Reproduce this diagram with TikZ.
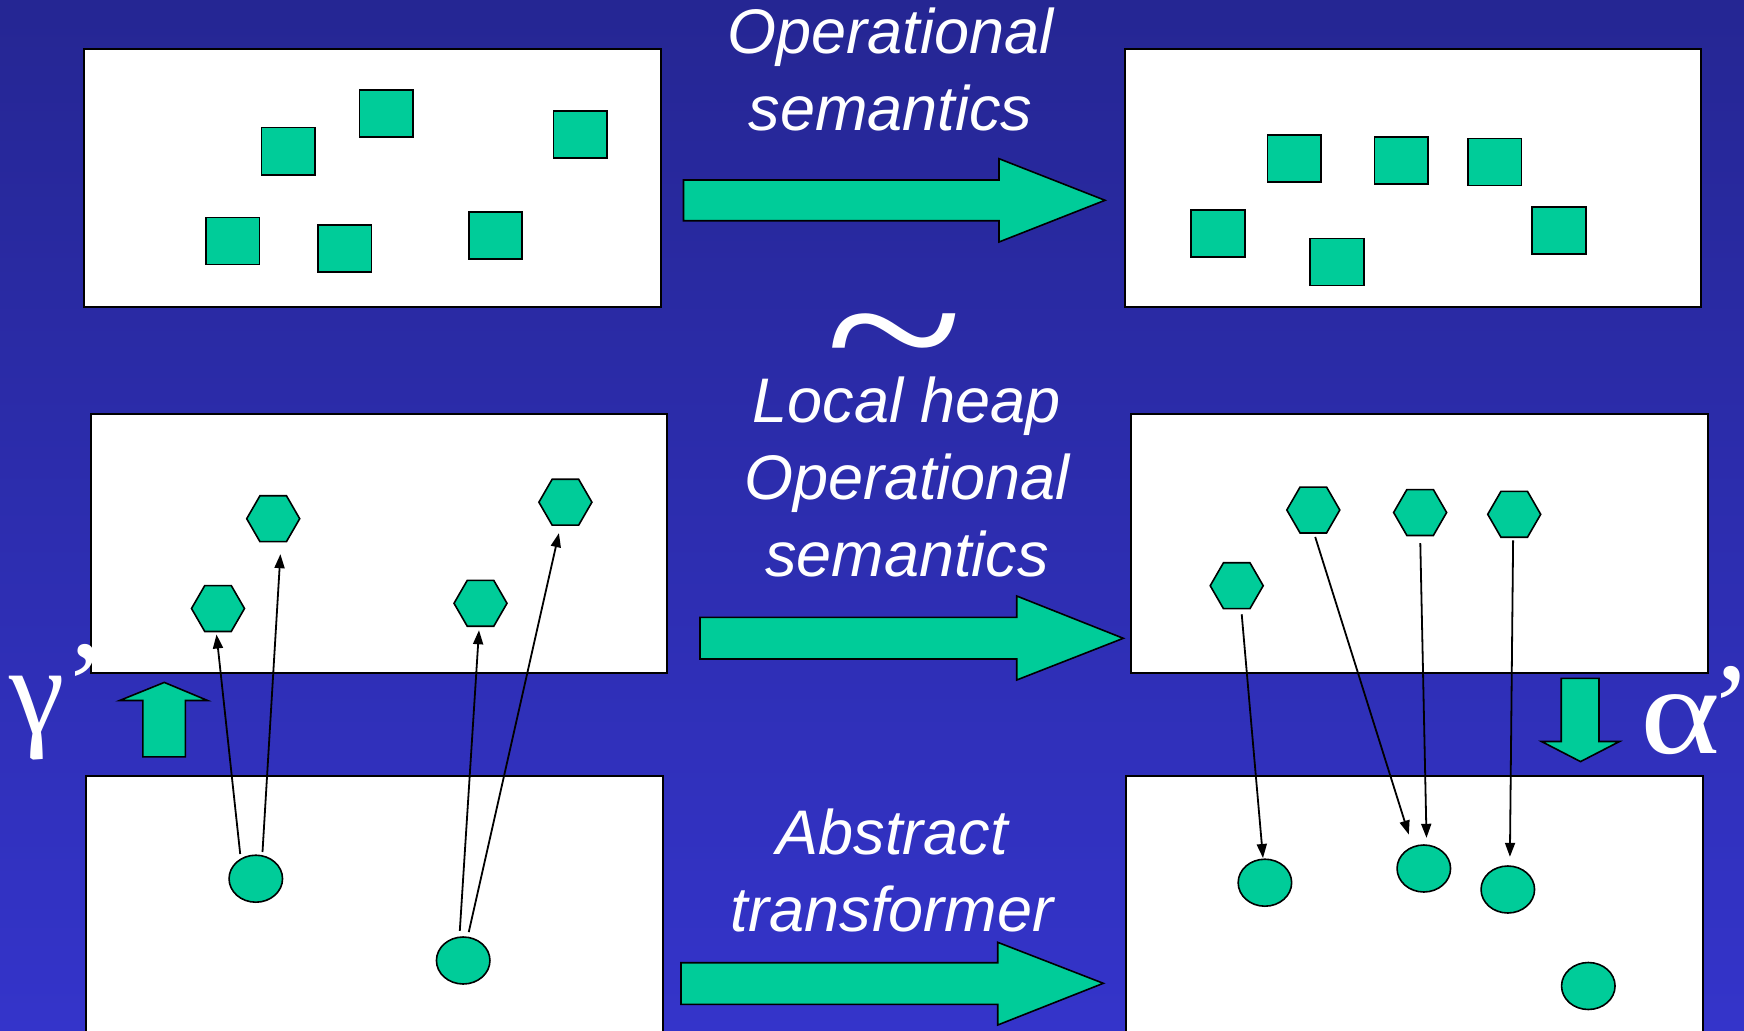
\documentclass[tikz,border=0pt]{standalone}
\usepackage{fontspec}
\setmainfont{Liberation Sans}
\newfontfamily\seriffont{Liberation Serif}
\usetikzlibrary{shapes.geometric,arrows.meta,calc}
\definecolor{bgtop}{HTML}{252693}
\definecolor{bgbot}{HTML}{3434CA}
\definecolor{tealfill}{HTML}{00CC99}
\begin{document}
\begin{tikzpicture}[x=1pt,y=-1pt,
  heapbox/.style={draw=black,fill=white,line width=2pt,inner sep=0pt,outer sep=0pt,anchor=north west},
  sq/.style={draw=black,fill=tealfill,line width=1.6pt,minimum width=53.5pt,minimum height=47pt,inner sep=0pt,outer sep=0pt},
  hexa/.style={regular polygon,regular polygon sides=6,draw=black,fill=tealfill,line width=1.6pt,minimum size=53pt,inner sep=0pt,outer sep=0pt},
  blob/.style={ellipse,draw=black,fill=tealfill,line width=1.6pt,minimum width=53.5pt,minimum height=47pt,inner sep=0pt,outer sep=0pt},
  conn/.style={line width=1.8pt,-{Triangle[length=14pt,width=10pt]}},
  blockarrow/.style={draw=black,fill=tealfill,line width=1.6pt,line join=miter},
  lbl/.style={text=white,font=\fontsize{63}{77}\selectfont\itshape,align=center,inner sep=0pt,anchor=base},
  greek/.style={text=white,font=\fontsize{125}{125}\selectfont\seriffont,inner sep=0pt,anchor=base west}]
\useasboundingbox (0,0) rectangle (1744,1030);
\shade[top color=bgtop,bottom color=bgbot] (0,0) rectangle (1744,1030);
\clip (0,0) rectangle (1744,1030);

% boxes
\node[heapbox,minimum width=577pt,minimum height=258pt] (b1) at (84,49) {};
\node[heapbox,minimum width=576.5pt,minimum height=258pt] (b2) at (1124.5,49) {};
\node[heapbox,minimum width=576pt,minimum height=258.5pt] (b3) at (91,414) {};
\node[heapbox,minimum width=577pt,minimum height=258.5pt] (b4) at (1131,414) {};
\node[heapbox,minimum width=577pt,minimum height=280pt] (b5) at (85.7,775.6) {};
\node[heapbox,minimum width=576.5pt,minimum height=280pt] (b6) at (1126,775.6) {};

% squares, top-left
\node[sq] (s1) at (288.4,151.2) {};
\node[sq] (s2) at (386.2,113.7) {};
\node[sq] (s3) at (580.3,134.7) {};
\node[sq] (s4) at (232.6,241) {};
\node[sq] (s5) at (344.6,248.4) {};
\node[sq] (s6) at (495.5,235.5) {};
% squares, top-right
\node[sq] (t1) at (1294.1,158.5) {};
\node[sq] (t2) at (1401.2,160.3) {};
\node[sq] (t3) at (1494.8,161.8) {};
\node[sq] (t4) at (1218,233.5) {};
\node[sq] (t5) at (1337,262) {};
\node[sq] (t6) at (1559,230.5) {};

% hexagons, middle-left
\node[hexa] (h1) at (273.2,518.7) {};
\node[hexa] (h2) at (565.4,502.2) {};
\node[hexa] (h3) at (218,608.5) {};
\node[hexa] (h4) at (480.5,603.3) {};
% hexagons, middle-right
\node[hexa] (g1) at (1236.7,585.7) {};
\node[hexa] (g2) at (1313.3,510) {};
\node[hexa] (g3) at (1420.1,512.5) {};
\node[hexa] (g4) at (1514.2,514.3) {};

% circles, bottom-left
\node[blob] (c1) at (255.8,878.7) {};
\node[blob] (c2) at (463.2,960.5) {};
% circles, bottom-right
\node[blob] (d1) at (1264.9,882.7) {};
\node[blob] (d2) at (1423.8,868.5) {};
\node[blob] (d3) at (1507.8,889.5) {};
\node[blob] (d4) at (1588.3,986) {};

% connectors
\draw[conn] ([shift={(-15.6,-1.2)}]c1.north) -- ([shift={(-1.5,3)}]h3.south);
\draw[conn] ([shift={(6.7,-3.2)}]c1.north) -- ([shift={(7.2,12.5)}]h1.south);
\draw[conn] ([shift={(-3.4,-6.2)}]c2.north) -- ([shift={(-1.5,4)}]h4.south);
\draw[conn] ([shift={(5.55,-4.9)}]c2.north) -- ([shift={(-6.5,8)}]h2.south);
\draw[conn] ([shift={(5,5.6)}]g1.south) -- ([shift={(-1.9,-1.2)}]d1.north);
\draw[conn] ([shift={(1.9,4)}]g2.south) -- ([shift={(-15,-10.5)}]d2.north);
\draw[conn] ([shift={(0.2,7.6)}]g3.south) -- ([shift={(2.7,-7.2)}]d2.north);
\draw[conn] ([shift={(-1.1,3.2)}]g4.south) -- ([shift={(2.1,-9.2)}]d3.north);

% block arrows
\draw[blockarrow] (683.5,180) -- (999,180) -- (999,158.7) -- (1105,200.3) -- (999,242) -- (999,220.7) -- (683.5,220.7) -- cycle;
\draw[blockarrow] (700,617.3) -- (1016.7,617.3) -- (1016.7,596) -- (1123.3,638.3) -- (1016.7,680) -- (1016.7,659) -- (700,659) -- cycle;
\draw[blockarrow] (681,962.7) -- (997.7,962.7) -- (997.7,942.3) -- (1103.3,983.3) -- (997.7,1025) -- (997.7,1004.3) -- (681,1004.3) -- cycle;
\draw[blockarrow] (142.9,756.8) -- (142.9,700.5) -- (119.6,700.5) -- (164.3,682.4) -- (207.6,700.5) -- (185.3,700.5) -- (185.3,756.8) -- cycle;
\draw[blockarrow] (1561.2,678.4) -- (1599,678.4) -- (1599,741.5) -- (1619.5,741.5) -- (1580.5,761.6) -- (1541.5,741.5) -- (1561.2,741.5) -- cycle;

% labels
\node[lbl] (op1) at (890.5,131) {Operational\\semantics};
\node[lbl] (op2) at (907,576) {Local heap\\Operational\\semantics};
\node[lbl] (op3) at (892,931.7) {Abstract\\transformer};
\node[text=white,inner sep=0pt,anchor=base,font=\fontsize{240}{240}\selectfont\seriffont] (sim) at (894,398) {\scalebox{1.06}[0.855]{\textasciitilde}};
\node[greek] (gam) at (9,733) {γ\raisebox{6pt}{’}};
\node[greek] (alp) at (1640,753) {\scalebox{1.22}[1]{α}\kern-10pt\raisebox{4pt}{’}};
\end{tikzpicture}
\end{document}
